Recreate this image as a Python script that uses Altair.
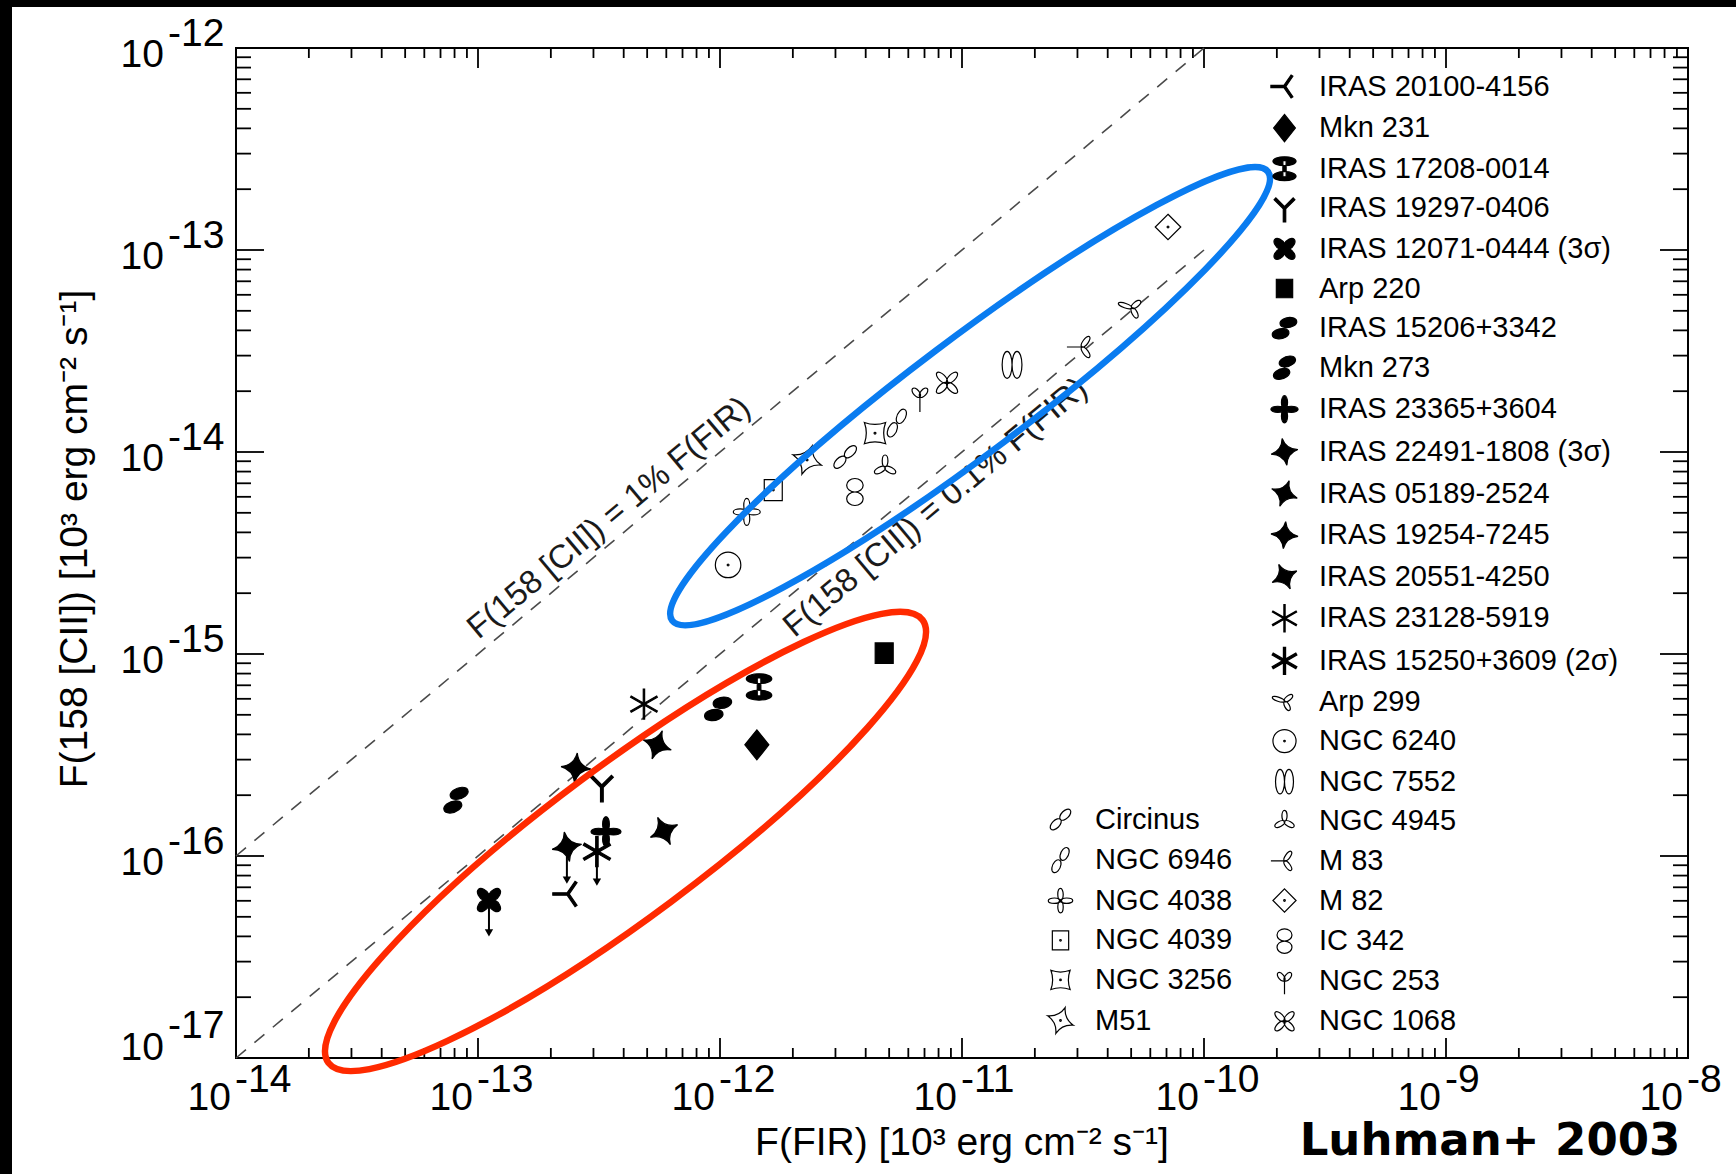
import math
import altair as alt
import pandas as pd

W, H = 1452, 1010
FONT = "Liberation Sans"

# ---------------- data ----------------
right_names = ["IRAS 20100-4156", "Mkn 231", "IRAS 17208-0014", "IRAS 19297-0406",
               "IRAS 12071-0444 (3σ)", "Arp 220", "IRAS 15206+3342", "Mkn 273",
               "IRAS 23365+3604", "IRAS 22491-1808 (3σ)", "IRAS 05189-2524",
               "IRAS 19254-7245", "IRAS 20551-4250", "IRAS 23128-5919",
               "IRAS 15250+3609 (2σ)", "Arp 299", "NGC 6240", "NGC 7552", "NGC 4945",
               "M 83", "M 82", "IC 342", "NGC 253", "NGC 1068"]
right_fir = [2.35e-13, 1.42e-12, 1.45e-12, 3.25e-13, 1.11e-13, 4.77e-12, 9.82e-13, 8.11e-14,
             3.38e-13, 2.33e-13, 5.50e-13, 2.54e-13, 5.87e-13, 4.85e-13, 3.10e-13,
             5.03e-11, 1.08e-12, 1.61e-11, 4.81e-12, 3.13e-11, 7.10e-11, 3.61e-12,
             6.70e-12, 8.67e-12]
right_cii = [6.49e-17, 3.55e-16, 6.87e-16, 2.20e-16, 6.05e-17, 1.01e-15, 5.35e-16, 1.89e-16,
             1.32e-16, 1.11e-16, 3.55e-16, 2.73e-16, 1.33e-16, 5.65e-16, 1.05e-16,
             5.16e-14, 2.76e-15, 2.70e-14, 8.43e-15, 3.31e-14, 1.30e-13, 6.34e-15,
             1.87e-14, 2.20e-14]
right_filled = [True, True, True, True, True, True, True, True, True, True, True, True,
                True, True, True, False, False, False, False, False, False, False, False,
                False]

left_names = ["Circinus", "NGC 6946", "NGC 4038", "NGC 4039", "NGC 3256", "M51"]
left_fir = [3.29e-12, 5.38e-12, 1.29e-12, 1.66e-12, 4.37e-12, 2.29e-12]
left_cii = [9.45e-15, 1.39e-14, 5.05e-15, 6.48e-15, 1.24e-14, 9.13e-15]

ul_names = ["IRAS 12071-0444 (3σ)", "IRAS 22491-1808 (3σ)", "IRAS 15250+3609 (2σ)"]
ul_fir = [1.11e-13, 2.33e-13, 3.10e-13]
ul_cii = [6.05e-17, 1.11e-16, 1.05e-16]
ul_end = [4.16e-17, 7.60e-17, 7.43e-17]

line_fir = [1e-14, 1e-10]
line_1pct = [1e-16, 1e-12]
line_01pct = [1e-17, 1e-13]

label_text = ["F(158 [CII]) = 1% F(FIR)", "F(158 [CII]) = 0.1% F(FIR)"]
label_fir = [3.48e-13, 7.77e-12]
label_cii = [4.71e-15, 5.31e-15]

ellipse_fir = [1.08e-11, 4.07e-13]      # blue, red
ellipse_cii = [1.89e-14, 1.18e-16]

x_major = [1e-14, 1e-13, 1e-12, 1e-11, 1e-10, 1e-9, 1e-8]
x_exp = ["-14", "-13", "-12", "-11", "-10", "-9", "-8"]
y_major = [1e-17, 1e-16, 1e-15, 1e-14, 1e-13, 1e-12]
y_exp = ["-17", "-16", "-15", "-14", "-13", "-12"]
x_minor = [k * 10.0 ** n for n in range(-14, -8) for k in range(2, 10)]
y_minor = [k * 10.0 ** n for n in range(-17, -12) for k in range(2, 10)]

x_title = "F(FIR) [10³ erg cm⁻² s⁻¹]"
y_title = "F(158 [CII]) [10³ erg cm⁻² s⁻¹]"
credit = "Luhman+ 2003"


# ---------------- symbol geometry ----------------
def f(v):
    return f"{v:.3f}"


def ell(cx, cy, rx, ry, rot=0.0):
    a = math.radians(rot)
    sx, sy = cx - rx * math.cos(a), cy - rx * math.sin(a)
    ex, ey = cx + rx * math.cos(a), cy + rx * math.sin(a)
    return (f"M{f(sx)},{f(sy)}A{f(rx)},{f(ry)},{f(rot)},1,1,{f(ex)},{f(ey)}"
            f"A{f(rx)},{f(ry)},{f(rot)},1,1,{f(sx)},{f(sy)}Z")


def petal(theta, L, w, r0=0.0, twist=0.0):
    a = math.radians(theta)
    d = r0 + L / 2
    return ell(d * math.cos(a), d * math.sin(a), L / 2, w / 2, theta + twist)


def poly(pts):
    return "M" + "L".join(f"{f(x)},{f(y)}" for x, y in pts) + "Z"


def bar(x1, y1, x2, y2, w):
    dx, dy = x2 - x1, y2 - y1
    n = math.hypot(dx, dy)
    nx, ny = -dy / n * w / 2, dx / n * w / 2
    return poly([(x1 + nx, y1 + ny), (x2 + nx, y2 + ny), (x2 - nx, y2 - ny), (x1 - nx, y1 - ny)])


def line(x1, y1, x2, y2):
    return f"M{f(x1)},{f(y1)}L{f(x2)},{f(y2)}"


def star4(rot, c=0.22, r=1.0):
    s = ""
    for k in range(4):
        a = math.radians(rot + 90 * k)
        m = math.radians(rot + 45 + 90 * k)
        a2 = math.radians(rot + 90 * (k + 1))
        if k == 0:
            s += f"M{f(r * math.cos(a))},{f(r * math.sin(a))}"
        s += f"Q{f(c * math.cos(m))},{f(c * math.sin(m))},{f(r * math.cos(a2))},{f(r * math.sin(a2))}"
    return s + "Z"


def aster(w):
    return bar(0, -1, 0, 1, w) + bar(-0.87, -0.5, 0.87, 0.5, w) + bar(-0.87, 0.5, 0.87, -0.5, w)


def bowtie(rot):
    a = math.radians(rot)
    cx, cy = 0.5 * math.cos(a), 0.5 * math.sin(a)
    return ell(cx, cy, 0.62, 0.36, rot + 45) + ell(-cx, -cy, 0.62, 0.36, rot + 45)


dot = ell(0, 0, 0.06, 0.06)

shapes = {
    "IRAS 20100-4156": bar(-1, 0, 0, 0, 0.16) + bar(0, 0, 0.55, -0.8, 0.16) + bar(0, 0, 0.55, 0.8, 0.16),
    "Mkn 231": poly([(0, -1), (0.8, 0), (0, 1), (-0.8, 0)]),
    "IRAS 17208-0014": ell(0, -0.55, 0.85, 0.33) + ell(0, 0.55, 0.85, 0.33) + bar(0, -0.6, 0, 0.6, 0.24),
    "IRAS 19297-0406": bar(0, 0, -0.7, -0.7, 0.18) + bar(0, 0, 0.7, -0.7, 0.18) + bar(0, -0.05, 0, 1, 0.18),
    "IRAS 12071-0444 (3σ)": "".join(petal(t, 1.0, 0.6) for t in (45, 135, 225, 315)),
    "Arp 220": poly([(-0.6, -0.68), (0.6, -0.68), (0.6, 0.68), (-0.6, 0.68)]),
    "IRAS 15206+3342": bowtie(-55),
    "Mkn 273": bowtie(-65),
    "IRAS 23365+3604": "".join(petal(t, 1.0, 0.45) for t in (0, 90, 180, 270)),
    "IRAS 22491-1808 (3σ)": star4(-10),
    "IRAS 05189-2524": star4(20),
    "IRAS 19254-7245": star4(5),
    "IRAS 20551-4250": star4(-25),
    "IRAS 23128-5919": aster(0.09),
    "IRAS 15250+3609 (2σ)": aster(0.16),
    "Arp 299": petal(200, 0.95, 0.3) + petal(-40, 0.75, 0.35) + petal(60, 0.75, 0.35),
    "NGC 6240": ell(0, 0, 0.85, 0.85) + dot,
    "NGC 7552": ell(-0.33, 0, 0.33, 0.9) + ell(0.33, 0, 0.33, 0.9),
    "NGC 4945": "".join(petal(t, 0.8, 0.38) for t in (-90, 30, 150)),
    "M 83": line(-1, 0, 0, 0) + petal(-55, 0.85, 0.35) + petal(55, 0.85, 0.35),
    "M 82": poly([(0, -0.85), (0.85, 0), (0, 0.85), (-0.85, 0)]) + dot,
    "IC 342": ell(0, -0.45, 0.55, 0.45) + ell(0, 0.45, 0.55, 0.45),
    "NGC 253": petal(-130, 0.75, 0.4) + petal(-50, 0.75, 0.4) + line(0, 0, 0, 1),
    "NGC 1068": "".join(petal(t, 0.95, 0.45) for t in (45, 135, 225, 315)),
    "Circinus": ell(0.35, -0.35, 0.5, 0.28, -45) + ell(-0.35, 0.35, 0.5, 0.28, -45),
    "NGC 6946": ell(0.3, -0.45, 0.5, 0.28, -65) + ell(-0.3, 0.45, 0.5, 0.28, -65),
    "NGC 4038": "".join(petal(t, 0.9, 0.4) for t in (0, 90, 180, 270)),
    "NGC 4039": poly([(-0.6, -0.7), (0.6, -0.7), (0.6, 0.7), (-0.6, 0.7)]) + dot,
    "NGC 3256": star4(45, 0.45) + dot,
    "M51": star4(20, 0.3) + dot,
}


def ellipse_path(ratio):
    return ell(0, 0, 1.0, ratio)


# ---------------- scales ----------------
xs = alt.Scale(type="log", domain=[1e-14, 1e-8], nice=False)
ys = alt.Scale(type="log", domain=[1e-17, 1e-12], nice=False)


def X(field):
    return alt.X(field, type="quantitative", scale=xs, axis=None)


def Y(field):
    return alt.Y(field, type="quantitative", scale=ys, axis=None)


one = pd.DataFrame({"k": [0]})

# page border strips
strip_left = alt.Chart(one).mark_rect(color="black").encode(
    x=alt.value(-236), x2=alt.value(-224), y=alt.value(-48), y2=alt.value(1126))
strip_top = alt.Chart(one).mark_rect(color="black").encode(
    x=alt.value(-236), x2=alt.value(1500), y=alt.value(-48), y2=alt.value(-41))

# ticks (inward, on all four sides)
xmaj_df = pd.DataFrame({"v": x_major, "base": ["10"] * len(x_major), "exp": x_exp})
ymaj_df = pd.DataFrame({"v": y_major, "base": ["10"] * len(y_major), "exp": y_exp})
xmin_df = pd.DataFrame({"v": x_minor})
ymin_df = pd.DataFrame({"v": y_minor})

tick_layers = []
for df, ln in ((xmaj_df, 20), (xmin_df, 10)):
    tick_layers.append(alt.Chart(df).mark_rule(color="black", strokeWidth=1.8).encode(
        x=X("v"), y=alt.value(H), y2=alt.value(H - ln)))
    tick_layers.append(alt.Chart(df).mark_rule(color="black", strokeWidth=1.8).encode(
        x=X("v"), y=alt.value(0), y2=alt.value(ln)))
for df, ln in ((ymaj_df, 28), (ymin_df, 15)):
    tick_layers.append(alt.Chart(df).mark_rule(color="black", strokeWidth=1.8).encode(
        y=Y("v"), x=alt.value(0), x2=alt.value(ln)))
    tick_layers.append(alt.Chart(df).mark_rule(color="black", strokeWidth=1.8).encode(
        y=Y("v"), x=alt.value(W), x2=alt.value(W - ln)))

# tick labels as "10" + raised exponent
xl_base = alt.Chart(xmaj_df).mark_text(align="right", baseline="alphabetic", dx=-5,
                                       font=FONT, fontSize=39, color="black").encode(
    x=X("v"), y=alt.value(H + 52), text="base:N")
xl_exp = alt.Chart(xmaj_df).mark_text(align="left", baseline="alphabetic", dx=-1,
                                      font=FONT, fontSize=39, color="black").encode(
    x=X("v"), y=alt.value(H + 34), text="exp:N")
ymaj_top = ymaj_df.iloc[1:]
ymaj_bot = ymaj_df.iloc[:1]
yl_base = alt.Chart(ymaj_top).mark_text(align="right", baseline="alphabetic", dy=19,
                                        font=FONT, fontSize=39, color="black").encode(
    y=Y("v"), x=alt.value(-72), text="base:N")
yl_exp = alt.Chart(ymaj_top).mark_text(align="left", baseline="alphabetic", dy=-2,
                                       font=FONT, fontSize=39, color="black").encode(
    y=Y("v"), x=alt.value(-68), text="exp:N")
yl_base_b = alt.Chart(ymaj_bot).mark_text(align="right", baseline="alphabetic", dy=2,
                                          font=FONT, fontSize=39, color="black").encode(
    y=Y("v"), x=alt.value(-72), text="base:N")
yl_exp_b = alt.Chart(ymaj_bot).mark_text(align="left", baseline="alphabetic", dy=-20,
                                         font=FONT, fontSize=39, color="black").encode(
    y=Y("v"), x=alt.value(-68), text="exp:N")

# ratio lines
lines_df = pd.DataFrame({
    "fir": line_fir + line_fir,
    "cii": line_1pct + line_01pct,
    "which": ["1%", "1%", "0.1%", "0.1%"],
})
ratio_lines = alt.Chart(lines_df).mark_line(color="#4a4a4a", strokeWidth=1.6,
                                            strokeDash=[13, 11]).encode(
    x=X("fir"), y=Y("cii"), detail="which:N")
lab_df = pd.DataFrame({"fir": label_fir, "cii": label_cii, "t": label_text})
ratio_labels = alt.Chart(lab_df).mark_text(angle=320.15, font=FONT, fontSize=33,
                                           align="center", baseline="middle",
                                           color="#1a1a1a").encode(
    x=X("fir"), y=Y("cii"), text="t:N")

# upper-limit arrows
ul_df = pd.DataFrame({"name": ul_names, "fir": ul_fir, "cii": ul_cii, "end": ul_end})
ul_shaft = alt.Chart(ul_df).mark_rule(color="black", strokeWidth=2).encode(
    x=X("fir"), y=Y("cii"), y2="end:Q")
ul_head = alt.Chart(ul_df).mark_point(shape="triangle-down", filled=True, color="black",
                                      size=70, opacity=1).encode(x=X("fir"), y=Y("end"))

# data points with legends
right_df = pd.DataFrame({"name": right_names, "fir": right_fir, "cii": right_cii})
left_df = pd.DataFrame({"name": left_names, "fir": left_fir, "cii": left_cii})
right_fill = ["black" if v else "white" for v in right_filled]
left_fill = ["white"] * len(left_names)


def legend(lx, ly):
    return alt.Legend(title=None, orient="none", legendX=lx, legendY=ly, symbolSize=740,
                      labelFont=FONT, labelFontSize=29, labelColor="black", labelLimit=0,
                      labelOffset=20, rowPadding=9.6, padding=0, symbolLimit=40,
                      symbolStrokeColor="black", symbolStrokeWidth=1.2, symbolOpacity=1)


legR = legend(1034, 24)
legL = legend(810, 757)


def points(df, names, fills, leg):
    return alt.Chart(df).mark_point(strokeWidth=1.2, size=900, opacity=1).encode(
        x=X("fir"), y=Y("cii"),
        shape=alt.Shape("name:N", scale=alt.Scale(domain=names,
                                                  range=[shapes[n] for n in names]),
                        legend=leg),
        fill=alt.Fill("name:N", scale=alt.Scale(domain=names, range=fills), legend=leg),
        stroke=alt.Stroke("name:N", scale=alt.Scale(domain=names,
                                                    range=["black"] * len(names)),
                          legend=leg),
    )


pts_right = points(right_df, right_names, right_fill, legR)
pts_left = points(left_df, left_names, left_fill, legL)

# highlight ellipses
ell_blue = alt.Chart(pd.DataFrame({"fir": ellipse_fir[:1], "cii": ellipse_cii[:1]})).mark_point(
    shape=ellipse_path(0.153), size=746 ** 2, angle=323, stroke="#0A7CF0", strokeWidth=6.5,
    filled=False, opacity=1).encode(x=X("fir"), y=Y("cii"))
ell_red = alt.Chart(pd.DataFrame({"fir": ellipse_fir[1:], "cii": ellipse_cii[1:]})).mark_point(
    shape=ellipse_path(0.204), size=741 ** 2, angle=323.3, stroke="#FF2A00", strokeWidth=6.5,
    filled=False, opacity=1).encode(x=X("fir"), y=Y("cii"))

# titles
xt = alt.Chart(pd.DataFrame({"t": [x_title]})).mark_text(
    font=FONT, fontSize=39, color="black", align="center", baseline="middle").encode(
    x=alt.value(W / 2), y=alt.value(1095), text="t:N")
yt = alt.Chart(pd.DataFrame({"t": [y_title]})).mark_text(
    font=FONT, fontSize=39, color="black", align="center", baseline="middle", angle=270).encode(
    x=alt.value(-161), y=alt.value(491), text="t:N")
ct = alt.Chart(pd.DataFrame({"t": [credit]})).mark_text(
    font="DejaVu Sans", fontWeight="bold", fontSize=45, color="black", align="center",
    baseline="middle").encode(x=alt.value(1254), y=alt.value(1093), text="t:N")

chart = alt.layer(
    strip_left, strip_top, *tick_layers, ratio_lines, ratio_labels, ul_shaft, ul_head,
    pts_right, pts_left, ell_blue, ell_red,
    xl_base, xl_exp, yl_base, yl_exp, yl_base_b, yl_exp_b, xt, yt, ct,
).resolve_scale(shape="independent", fill="independent", stroke="independent").properties(
    width=W, height=H, background="white", padding=0,
).configure_view(stroke="black", strokeWidth=2)

chart.save("out.html", embed_options={"renderer": "svg", "actions": False})
